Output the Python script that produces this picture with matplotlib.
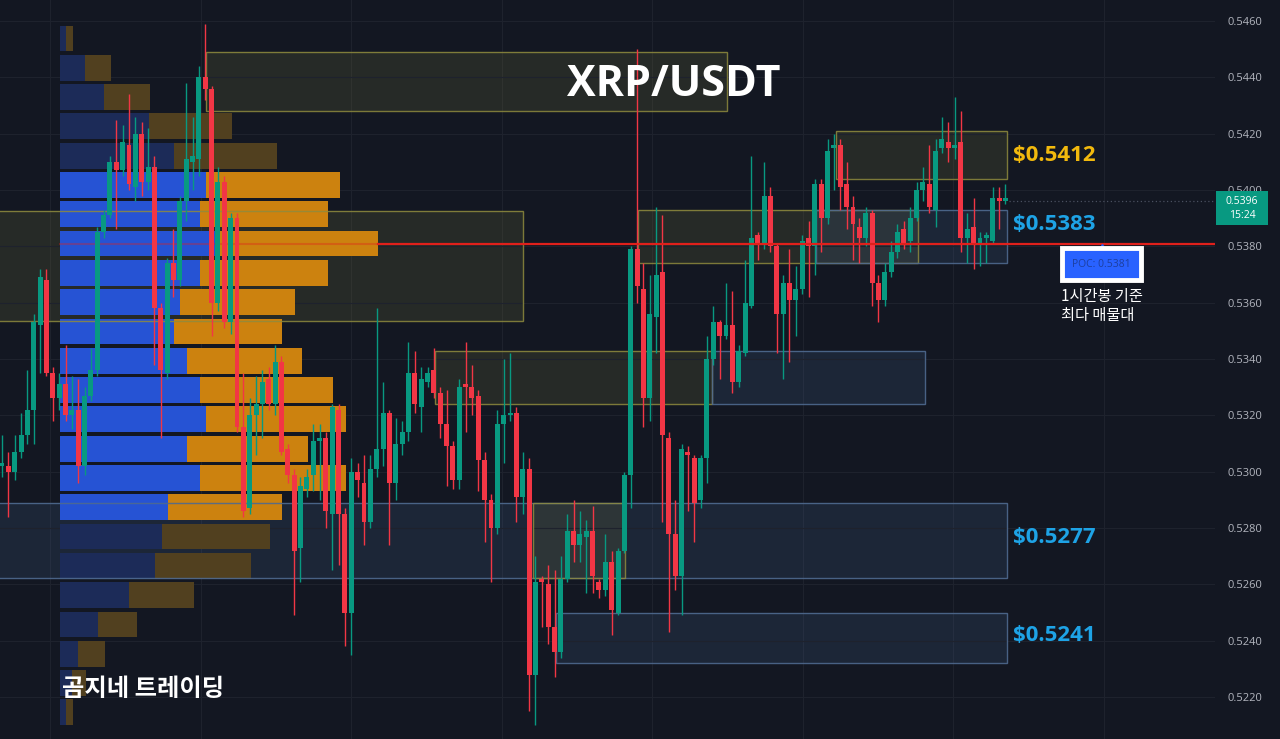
import numpy as np
import matplotlib
matplotlib.use("Agg")
import matplotlib.pyplot as plt
from matplotlib.patches import Rectangle
from matplotlib.colors import to_rgba
from matplotlib.transforms import blended_transform_factory

plt.rcParams['font.family'] = ['Open Sans', 'Noto Sans CJK KR', 'DejaVu Sans']

BG = '#131722'
UP = '#089981'
DOWN = '#f23645'

# XRP/USDT 1h candles, prices in 1e-4 USDT
opens = [5302, 5302, 5300, 5307, 5313, 5322, 5352, 5368, 5335, 5326, 5331, 5320, 5322, 5302, 5327, 5336,
         5385, 5391, 5410, 5407, 5416, 5401, 5420, 5403, 5408, 5358, 5335, 5374, 5368, 5396, 5410, 5411,
         5440, 5436, 5360, 5403, 5353, 5390, 5316, 5287, 5320, 5324, 5333, 5324, 5339, 5308, 5299, 5273,
         5294, 5299, 5311, 5312, 5285, 5322, 5285, 5250, 5300, 5296, 5282, 5301, 5308, 5321, 5296, 5310,
         5314, 5335, 5323, 5332, 5336, 5328, 5317, 5309, 5297, 5331, 5330, 5327, 5304, 5290, 5280, 5317,
         5320, 5321, 5291, 5301, 5228, 5262, 5260, 5245, 5236, 5262, 5279, 5274, 5277, 5279, 5261, 5258,
         5268, 5250, 5272, 5299, 5379, 5365, 5326, 5355, 5371, 5312, 5278, 5263, 5307, 5305, 5290, 5305,
         5340, 5353, 5348, 5352, 5332, 5342, 5359, 5384, 5381, 5398, 5380, 5356, 5367, 5361, 5365, 5383,
         5380, 5402, 5390, 5415, 5416, 5402, 5394, 5387, 5383, 5392, 5367, 5361, 5371, 5378, 5386, 5382,
         5390, 5400, 5402, 5393, 5415, 5417, 5415, 5417, 5383, 5387, 5381, 5383, 5382, 5397, 5396]
highs = [5313, 5307, 5313, 5321, 5336, 5356, 5372, 5372, 5337, 5335, 5345, 5334, 5333, 5330, 5344, 5387,
         5393, 5412, 5425, 5423, 5434, 5426, 5424, 5422, 5412, 5360, 5376, 5386, 5398, 5438, 5426, 5444,
         5459, 5437, 5408, 5405, 5392, 5392, 5335, 5326, 5334, 5336, 5337, 5345, 5341, 5310, 5301, 5298,
         5301, 5317, 5317, 5314, 5324, 5324, 5287, 5305, 5303, 5306, 5306, 5358, 5332, 5322, 5319, 5318,
         5346, 5343, 5337, 5337, 5344, 5330, 5329, 5311, 5333, 5346, 5338, 5329, 5307, 5292, 5322, 5340,
         5342, 5323, 5307, 5305, 5270, 5263, 5267, 5265, 5270, 5285, 5290, 5286, 5283, 5288, 5262, 5278,
         5272, 5273, 5300, 5380, 5450, 5374, 5370, 5394, 5391, 5314, 5290, 5310, 5309, 5306, 5306, 5348,
         5359, 5354, 5367, 5364, 5345, 5375, 5412, 5385, 5410, 5401, 5381, 5370, 5379, 5373, 5384, 5389,
         5404, 5404, 5418, 5420, 5418, 5410, 5398, 5390, 5394, 5393, 5370, 5374, 5382, 5388, 5389, 5394,
         5403, 5408, 5416, 5418, 5426, 5424, 5433, 5428, 5392, 5397, 5385, 5385, 5401, 5401, 5402]
lows = [5298, 5284, 5297, 5305, 5310, 5310, 5335, 5334, 5318, 5322, 5318, 5315, 5296, 5299, 5325, 5334,
        5383, 5390, 5386, 5405, 5400, 5396, 5398, 5400, 5338, 5312, 5333, 5362, 5366, 5389, 5400, 5405,
        5432, 5348, 5357, 5351, 5349, 5314, 5284, 5285, 5306, 5312, 5322, 5320, 5306, 5296, 5249, 5261,
        5291, 5293, 5290, 5280, 5265, 5267, 5238, 5235, 5291, 5274, 5280, 5298, 5302, 5274, 5290, 5306,
        5311, 5321, 5314, 5330, 5326, 5312, 5295, 5294, 5294, 5314, 5320, 5293, 5275, 5261, 5278, 5303,
        5318, 5282, 5285, 5215, 5210, 5245, 5239, 5227, 5234, 5261, 5268, 5268, 5257, 5257, 5255, 5256,
        5242, 5249, 5271, 5287, 5360, 5316, 5318, 5342, 5282, 5243, 5258, 5249, 5286, 5275, 5287, 5296,
        5338, 5333, 5347, 5328, 5330, 5341, 5358, 5375, 5379, 5378, 5342, 5333, 5339, 5348, 5363, 5362,
        5370, 5378, 5388, 5400, 5393, 5386, 5375, 5374, 5380, 5359, 5353, 5359, 5369, 5376, 5379, 5378,
        5389, 5396, 5392, 5387, 5413, 5410, 5411, 5378, 5374, 5372, 5373, 5374, 5381, 5386, 5395]
closes = [5303, 5300, 5307, 5313, 5322, 5353, 5369, 5335, 5326, 5331, 5320, 5322, 5302, 5327, 5336, 5385,
          5391, 5410, 5407, 5417, 5402, 5420, 5403, 5408, 5358, 5336, 5374, 5368, 5396, 5411, 5412, 5440,
          5436, 5360, 5403, 5353, 5390, 5316, 5286, 5320, 5324, 5332, 5324, 5339, 5307, 5299, 5272, 5295,
          5298, 5311, 5312, 5286, 5323, 5285, 5250, 5300, 5297, 5282, 5301, 5308, 5321, 5296, 5310, 5314,
          5335, 5324, 5333, 5335, 5328, 5317, 5309, 5297, 5330, 5330, 5326, 5304, 5290, 5280, 5317, 5320,
          5321, 5291, 5301, 5228, 5261, 5261, 5245, 5236, 5262, 5279, 5274, 5278, 5279, 5263, 5258, 5268,
          5251, 5272, 5299, 5379, 5366, 5326, 5356, 5370, 5313, 5278, 5263, 5308, 5306, 5289, 5305, 5340,
          5353, 5348, 5352, 5332, 5343, 5360, 5383, 5381, 5398, 5380, 5356, 5367, 5361, 5365, 5382, 5380,
          5402, 5390, 5414, 5416, 5401, 5394, 5388, 5383, 5392, 5367, 5361, 5371, 5378, 5385, 5381, 5390,
          5400, 5403, 5394, 5414, 5418, 5415, 5416, 5383, 5386, 5381, 5383, 5384, 5397, 5396, 5397]

# volume profile: 24 rows from 0.5459 down to 0.52094, relative units
buy_vol = [6, 25, 44, 89, 114, 146, 140, 158, 140, 120, 114, 127, 140, 146, 127, 140, 108, 102, 95, 69, 38, 18, 12, 6]
sell_vol = [7, 26, 46, 83, 103, 134, 128, 160, 128, 115, 108, 115, 133, 140, 121, 146, 114, 108, 96, 65, 39, 27, 14, 7]
vp_top, vp_bottom = 0.5459, 0.52094
value_area_rows = (5, 16)
poc = 0.5381

# supply / demand zones: start and end candle, low, high
zone_x0 = [32.1, -1.0, 100.2, 128.2, 131.3, 68.2, 111.8, -1.0, 83.6, 87.2]
zone_x1 = [114.2, 82.0, 144.3, 158.3, 158.3, 111.8, 145.4, 158.3, 98.1, 158.3]
zone_lo = [0.5428, 0.53535, 0.5374, 0.5374, 0.5404, 0.5324, 0.5324, 0.52624, 0.52624, 0.5232]
zone_hi = [0.5449, 0.53925, 0.5393, 0.5393, 0.5421, 0.5343, 0.5343, 0.5289, 0.5289, 0.5250]
zone_kind = ['y', 'y', 'y', 'b', 'y', 'y', 'b', 'b', 'y', 'b']

level_text = ['$0.5412', '$0.5383', '$0.5277', '$0.5241']
level_y = [0.54124, 0.53876, 0.52765, 0.52417]
level_color = ['#f2b90d', '#1ea3e6', '#1ea3e6', '#1ea3e6']

last_price = 0.5396
countdown = '15:24'

o = np.array(opens) / 1e4
h = np.array(highs) / 1e4
l = np.array(lows) / 1e4
c = np.array(closes) / 1e4
idx = np.arange(len(o))
up = c >= o
col = np.where(up, UP, DOWN)

fig = plt.figure(figsize=(12.8, 7.39), dpi=100, facecolor=BG)
rect = [0, 0, 1215 / 1280, 1]
vp = fig.add_axes(rect, facecolor=BG)
ax = fig.add_axes(rect, sharey=vp)
ax.patch.set_visible(False)
ax.set_xlim(-0.315, 191.0)
ax.set_ylim(0.520512, 0.546745)

# grid (kept on the bottom axes, behind the profile)
ticks = np.arange(0.5220, 0.54601, 0.0020)
ax.set_yticks(ticks)
vp.grid(True, axis='y', color='#1e222d', lw=0.8, zorder=0)
vp.set_xlim(-60, 1155)
vp.tick_params(left=False, labelleft=False, bottom=False, labelbottom=False)
for gx in np.arange(7.6, 191, 23.7):
    vp.plot([gx, gx], [0.5, 0.6], color='#1e222d', lw=0.8, zorder=0.5, transform=ax.transData)

# zone fills behind the profile, outlines on top
for x0, x1, lo, hi, kd in zip(zone_x0, zone_x1, zone_lo, zone_hi, zone_kind):
    if kd == 'y':
        fc, ec = to_rgba('#6e6e3a', 0.22), to_rgba('#8f8b3e', 0.85)
    else:
        fc, ec = to_rgba('#3f5c85', 0.22), to_rgba('#4f6a90', 0.9)
    vp.add_patch(Rectangle((x0, lo), x1 - x0, hi - lo, facecolor=fc, edgecolor='none',
                           transform=ax.transData, zorder=1))
    ax.add_patch(Rectangle((x0, lo), x1 - x0, hi - lo, facecolor='none', edgecolor=ec, lw=1.0, zorder=1))

# volume profile
edges = np.linspace(vp_top, vp_bottom, len(buy_vol) + 1)
centers = (edges[:-1] + edges[1:]) / 2
row_h = abs(edges[1] - edges[0])
bright = [value_area_rows[0] <= k <= value_area_rows[1] for k in range(len(buy_vol))]
blue_c = ['#2653d4' if b else '#1c2b58' for b in bright]
orange_c = ['#cc820f' if b else '#51401f' for b in bright]
buy = np.array(buy_vol)
sell = np.array(sell_vol)
vp.barh(centers, buy, height=row_h * 0.88, left=0, color=blue_c, zorder=2)
vp.barh(centers, sell, height=row_h * 0.88, left=buy, color=orange_c, zorder=2)
k_poc = int(np.argmin(abs(centers - poc)))
vp.plot([0, buy[k_poc] + sell[k_poc]], [poc, poc], color='#e0201b', alpha=0.35, lw=1.5, zorder=3)

# candles
ax.vlines(idx, l, h, colors=col, lw=1.0, zorder=4)
body = np.maximum(abs(c - o), 0.00003)
ax.bar(idx, body, bottom=np.minimum(o, c), width=0.78, color=col, zorder=5)

# POC line
ax.plot([buy[k_poc] + sell[k_poc], 1155], [poc, poc], color='#e0201b', lw=1.6, zorder=6,
        transform=vp.transData)

# current price line
ax.hlines(last_price, idx[-1] + 0.5, 191, colors='#4a5060', linestyles=(0, (1, 2)), lw=0.9, zorder=3)

ax.set_xlim(-0.315, 191.0)
ax.set_ylim(0.520512, 0.546745)
ax.yaxis.tick_right()
ax.yaxis.set_major_formatter(plt.FuncFormatter(lambda v, p: f'{v:.4f}'))
ax.tick_params(axis='y', length=0, pad=9, labelcolor='#b2b5be', labelsize=8)
ax.tick_params(axis='x', length=0, labelbottom=False)
for a in (ax, vp):
    for s in a.spines.values():
        s.set_visible(False)

# titles and labels
ax.text(105.7, 0.54376, 'XRP/USDT', color='white', fontsize=31, fontweight='bold', ha='center', va='center', zorder=8)
ax.text(9.4, 0.52229, '곰지네 트레이딩', color='white', fontsize=17.5, fontweight='bold', ha='left', va='center',
        family=['Noto Sans CJK KR', 'DejaVu Sans'], zorder=8)
for t, y, cc in zip(level_text, level_y, level_color):
    ax.text(159.2, y, t, color=cc, fontsize=16, fontweight='bold', ha='left', va='center', zorder=8)

ax.text(173.1, 0.53736, f'POC: {poc:.4f}', color='#1d3f9e', fontsize=7.5, ha='center', va='center', zorder=8,
        bbox=dict(boxstyle='square,pad=1.0', facecolor='#2962ff', edgecolor='white', lw=3.5))
ax.plot([173.2], [poc - 0.00012], marker='^', color='#2962ff', ms=5, zorder=7)
ax.text(166.8, 0.53587, '1시간봉 기준\n최다 매물대', color='white', fontsize=11, ha='left', va='center',
        linespacing=1.15, family=['Noto Sans CJK KR', 'DejaVu Sans'], zorder=8)

# last price tag on the axis
tr = blended_transform_factory(ax.transAxes, ax.transData)
ax.add_patch(Rectangle((1216 / 1215, 0.53876), 52 / 1215, 0.0012, transform=tr, facecolor=UP,
                       edgecolor='none', clip_on=False, zorder=9))
ax.text(1242 / 1215, last_price, f'{last_price:.4f}', transform=tr, color='white', fontsize=7.5,
        ha='center', va='center', zorder=10, clip_on=False)
ax.text(1242 / 1215, 0.53911, countdown, transform=tr, color='white', fontsize=7.5,
        ha='center', va='center', zorder=10, clip_on=False)

fig.savefig('out.png', dpi=100, facecolor=BG)
